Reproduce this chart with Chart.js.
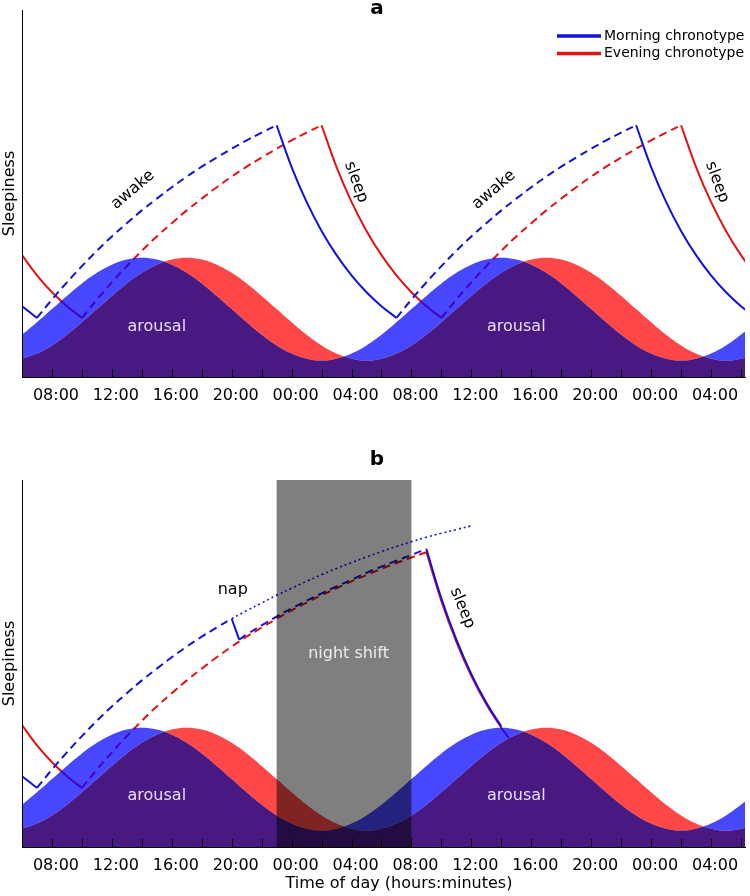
<!DOCTYPE html>
<html>
<head>
<meta charset="utf-8">
<script src="https://cdn.jsdelivr.net/npm/chart.js@4.4.0/dist/chart.umd.min.js"></script>
<style>
  body { margin: 0; background: #fff; }
  canvas { display: block; }
</style>
</head>
<body>
<canvas id="panelA" width="750" height="440" style="width:750px;height:440px"></canvas>
<canvas id="panelB" width="750" height="456" style="width:750px;height:456px"></canvas>
<script>
// time axis: hours counted from midnight of day 1 (30 = 06:00 next day)
const tickHours = [8, 12, 16, 20, 24, 28, 32, 36, 40, 44, 48, 52];
const tickLabels = ['08:00', '12:00', '16:00', '20:00', '00:00', '04:00',
                    '08:00', '12:00', '16:00', '20:00', '00:00', '04:00'];

// circadian arousal waves, hourly 06:00 .. 08:00 (day 3)
const waveHours = [6, 7, 8, 9, 10, 11, 12, 13, 14, 15, 16, 17, 18, 19, 20, 21, 22, 23, 24, 25, 26, 27, 28, 29, 30, 31,
                   32, 33, 34, 35, 36, 37, 38, 39, 40, 41, 42, 43, 44, 45, 46, 47, 48, 49, 50, 51, 52, 53, 54, 55, 56];
const morningArousal = [11.5, 14.9, 18.5, 22.1, 25.5, 28.4, 30.6, 32.0, 32.5, 32.0, 30.6, 28.4, 25.5, 22.1, 18.5, 14.9, 11.5,
                        8.6, 6.4, 5.0, 4.5, 5.0, 6.4, 8.6, 11.5, 14.9, 18.5, 22.1, 25.5, 28.4, 30.6, 32.0, 32.5, 32.0,
                        30.6, 28.4, 25.5, 22.1, 18.5, 14.9, 11.5, 8.6, 6.4, 5.0, 4.5, 5.0, 6.4, 8.6, 11.5, 14.9, 18.5];
const eveningArousal = [5.0, 6.4, 8.6, 11.5, 14.9, 18.5, 22.1, 25.5, 28.4, 30.6, 32.0, 32.5, 32.0, 30.6, 28.4, 25.5, 22.1,
                        18.5, 14.9, 11.5, 8.6, 6.4, 5.0, 4.5, 5.0, 6.4, 8.6, 11.5, 14.9, 18.5, 22.1, 25.5, 28.4, 30.6,
                        32.0, 32.5, 32.0, 30.6, 28.4, 25.5, 22.1, 18.5, 14.9, 11.5, 8.6, 6.4, 5.0, 4.5, 5.0, 6.4, 8.6];

// panel a: sleepiness, hourly 06:00 .. 07:00 (day 3)
const hoursA = [6, 7, 8, 9, 10, 11, 12, 13, 14, 15, 16, 17, 18, 19, 20, 21, 22, 23, 24, 25, 26, 27, 28, 29, 30,
                31, 32, 33, 34, 35, 36, 37, 38, 39, 40, 41, 42, 43, 44, 45, 46, 47, 48, 49, 50, 51, 52, 53, 54, 55];
const morningSleepinessA = [19.3, 16.1, 21.1, 25.8, 30.2, 34.4, 38.3, 41.9, 45.4, 48.6, 51.7, 54.6, 57.3, 59.8, 62.2, 64.5, 66.6, 68.6,
                            57.2, 47.7, 39.8, 33.2, 27.7, 23.1, 19.3, 16.1,
                            21.1, 25.8, 30.2, 34.4, 38.3, 41.9, 45.4, 48.6, 51.7, 54.6, 57.3, 59.8, 62.2, 64.5, 66.6, 68.6,
                            57.2, 47.7, 39.8, 33.2, 27.7, 23.1, 19.3, 16.1];
const eveningSleepinessA = [33.2, 27.7, 23.1, 19.3, 16.1,
                            21.1, 25.8, 30.2, 34.4, 38.3, 41.9, 45.4, 48.6, 51.7, 54.6, 57.3, 59.8, 62.2, 64.5, 66.6, 68.6,
                            57.2, 47.7, 39.8, 33.2, 27.7, 23.1, 19.3, 16.1,
                            21.1, 25.8, 30.2, 34.4, 38.3, 41.9, 45.4, 48.6, 51.7, 54.6, 57.3, 59.8, 62.2, 64.5, 66.6, 68.6,
                            57.2, 47.7, 39.8, 33.2, 27.7];
const morningAwakeA = [[7, 23], [31, 47]];
const eveningAwakeA = [[10, 26], [34, 50]];

// panel b: nap at 20:00, night shift, day sleep
const morningHoursB = [6, 7, 8, 9, 10, 11, 12, 13, 14, 15, 16, 17, 18, 19, 20, 20.5,
                       21, 22, 23, 24, 25, 26, 27, 28, 29, 30, 31, 32, 33, 34, 35, 36, 37, 38];
const morningSleepinessB = [19.3, 16.1, 21.1, 25.8, 30.2, 34.4, 38.3, 41.9, 45.4, 48.6, 51.7, 54.6, 57.3, 59.8, 62.2, 56.5,
                            57.9, 60.4, 62.8, 65.0, 67.1, 69.1, 71.0, 72.8, 74.7, 76.4, 78.0, 79.6, 81.2,
                            67.7, 56.5, 47.1, 39.3, 32.8];
const morningAwakeB = [[7, 20], [20.5, 33]];
const eveningHoursB = [6, 7, 8, 9, 10, 11, 12, 13, 14, 15, 16, 17, 18, 19, 20, 21, 22, 23, 24, 25, 26,
                       27, 28, 29, 30, 31, 32, 33, 34, 35, 36, 37, 38, 38.5];
const eveningSleepinessB = [33.2, 27.7, 23.1, 19.3, 16.1,
                            21.1, 25.8, 30.2, 34.4, 38.3, 41.9, 45.4, 48.6, 51.7, 54.6, 57.3, 59.8, 62.2, 64.5, 66.6, 68.6,
                            70.5, 72.4, 74.1, 75.8, 77.4, 78.9, 80.3,
                            67.0, 55.9, 46.6, 38.9, 32.5, 29.7];
const eveningAwakeB = [[10, 33]];
// morning type without the nap
const noNapHours = [20, 21, 22, 23, 24, 25, 26, 27, 28, 29, 30, 31, 32, 33, 34, 35, 36];
const noNapSleepiness = [62.2, 64.4, 66.5, 68.6, 70.5, 72.4, 74.2, 75.9, 77.5, 79.0, 80.5, 81.9, 83.2, 84.4, 85.5, 86.5, 87.5];
const nightShift = [23, 32];

const FONT = '"DejaVu Sans", Verdana, sans-serif';
const BLUE = '#1212dc';
const RED = '#e41212';

const pts = (hrs, vals) => hrs.map((h, i) => ({ x: h, y: vals[i] }));

// split a curve into awake (dashed) and asleep (solid) pieces
function sleepDatasets(hrs, vals, awake, color, order) {
  const isAwake = (a, b) => awake.some(w => a >= w[0] && b <= w[1]);
  const pieces = [];
  let cur = null;
  for (let i = 0; i < hrs.length - 1; i++) {
    const w = isAwake(hrs[i], hrs[i + 1]);
    if (!cur || cur.awake !== w) {
      cur = { awake: w, data: [{ x: hrs[i], y: vals[i] }] };
      pieces.push(cur);
    }
    cur.data.push({ x: hrs[i + 1], y: vals[i + 1] });
  }
  return pieces.map(p => ({
    data: p.data,
    borderColor: color,
    borderWidth: 2,
    borderDash: p.awake ? [8, 5] : [],
    pointRadius: 0,
    tension: 0.4,
    fill: false,
    order: order
  }));
}

// the two waves are plain (invisible) lines, their areas are painted by waveFill
function waveDatasets() {
  return [morningArousal, eveningArousal].map(v => ({
    data: pts(waveHours, v),
    borderWidth: 1,
    borderColor: 'rgba(0,0,0,0)',
    pointRadius: 0,
    tension: 0.4,
    fill: false,
    order: 9
  }));
}

// arousal areas, drawn over the lines (semi transparent like the original)
const waveFill = {
  id: 'waveFill',
  afterDatasetsDraw(chart) {
    const { ctx, chartArea: a } = chart;
    const blue = chart.getDatasetMeta(0).dataset;
    const red = chart.getDatasetMeta(1).dataset;
    [blue, red].forEach(l => { if (l.updateControlPoints) l.updateControlPoints(a, 'x'); });
    const shape = (line, edge) => {
      const p = line.points;
      ctx.beginPath();
      line.path(ctx);
      ctx.lineTo(p[p.length - 1].x, edge);
      ctx.lineTo(p[0].x, edge);
      ctx.closePath();
    };
    const region = (clipLine, clipEdge, fillLine, color) => {
      ctx.save();
      shape(clipLine, clipEdge);
      ctx.clip();
      shape(fillLine, a.bottom);
      ctx.fillStyle = color;
      ctx.fill();
      ctx.restore();
    };
    ctx.save();
    ctx.beginPath();
    ctx.rect(a.left, a.top, a.right - a.left, a.bottom - a.top);
    ctx.clip();
    region(red, a.top - 1, blue, 'rgba(0,0,255,0.72)');
    region(blue, a.top - 1, red, 'rgba(255,0,0,0.72)');
    region(blue, a.bottom, red, 'rgba(52,0,114,0.9)');
    if (chart.options.plugins.waveFill.shift) {
      const x = chart.scales.x;
      const x0 = x.getPixelForValue(nightShift[0]);
      const x1 = x.getPixelForValue(nightShift[1]);
      ctx.fillStyle = 'rgba(0,0,0,0.5)';
      ctx.fillRect(x0, a.top, x1 - x0, a.bottom - a.top);
    }
    ctx.restore();
  }
};

const notes = {
  id: 'notes',
  afterDraw(chart, args, opts) {
    const { ctx, chartArea: a, scales: { x, y } } = chart;
    ctx.save();
    // tick marks point into the plot
    ctx.strokeStyle = '#000';
    ctx.lineWidth = 1;
    x.ticks.forEach(t => {
      const px = Math.round(x.getPixelForValue(t.value)) + 0.5;
      if (px <= a.left + 2) return;
      ctx.beginPath();
      ctx.moveTo(px, a.bottom);
      ctx.lineTo(px, a.bottom - 8);
      ctx.stroke();
    });
    ctx.textAlign = 'center';
    ctx.textBaseline = 'middle';
    opts.labels.forEach(l => {
      ctx.save();
      ctx.translate(x.getPixelForValue(l.at[0]), y.getPixelForValue(l.at[1]));
      ctx.rotate((l.rot || 0) * Math.PI / 180);
      ctx.font = '16px ' + FONT;
      ctx.fillStyle = l.color || '#000';
      ctx.fillText(l.text, 0, 0);
      ctx.restore();
    });
    ctx.fillStyle = '#000';
    ctx.font = 'bold 20px ' + FONT;
    ctx.fillText(opts.title[0], opts.title[1], opts.title[2]);
    if (opts.xTitle) {
      ctx.font = '16px ' + FONT;
      ctx.fillText(opts.xTitle[0], opts.xTitle[1], opts.xTitle[2]);
    }
    if (opts.legend) {
      ctx.textAlign = 'left';
      ctx.font = '14px ' + FONT;
      ctx.lineWidth = 3.5;
      opts.legend.forEach((item, i) => {
        const ly = 36 + i * 17.5;
        ctx.strokeStyle = item[1];
        ctx.beginPath();
        ctx.moveTo(557, ly);
        ctx.lineTo(601, ly);
        ctx.stroke();
        ctx.fillStyle = '#000';
        ctx.fillText(item[0], 604, ly);
      });
    }
    ctx.restore();
  }
};

function makeOptions(top, xHeight, noteOpts, shift) {
  return {
    responsive: false,
    animation: false,
    events: [],
    layout: { padding: { top: top, right: 4, left: 0, bottom: 0 } },
    scales: {
      x: {
        type: 'linear',
        min: 6,
        max: 54.27,
        afterFit: s => { s.height = xHeight; },
        grid: { display: false, drawTicks: false },
        border: { display: true, color: '#000', width: 1, z: 1 },
        ticks: {
          stepSize: 2,
          includeBounds: false,
          autoSkip: false,
          maxRotation: 0,
          padding: 9,
          labelOffset: 4,
          color: '#000',
          font: { family: FONT, size: 16 },
          callback: v => {
            const i = tickHours.indexOf(v);
            return i >= 0 ? tickLabels[i] : '';
          }
        }
      },
      y: {
        min: 0,
        max: 100,
        afterFit: s => { s.width = 22; },
        grid: { display: false, drawTicks: false },
        border: { display: true, color: '#000', width: 1, z: 1 },
        ticks: { display: false },
        title: {
          display: true,
          text: 'Sleepiness',
          color: '#000',
          padding: { top: 0, bottom: 0 },
          font: { family: FONT, size: 16 }
        }
      }
    },
    plugins: {
      legend: { display: false },
      tooltip: { enabled: false },
      waveFill: { shift: shift },
      notes: noteOpts
    }
  };
}

new Chart(document.getElementById('panelA'), {
  type: 'line',
  data: {
    datasets: waveDatasets()
      .concat(sleepDatasets(hoursA, morningSleepinessA, morningAwakeA, BLUE, 1))
      .concat(sleepDatasets(hoursA, eveningSleepinessA, eveningAwakeA, RED, 2))
  },
  options: makeOptions(10, 63, {
    title: ['a', 377, 9],
    legend: [['Morning chronotype', BLUE], ['Evening chronotype', RED]],
    labels: [
      { text: 'awake', at: [13.4, 51], rot: -40 },
      { text: 'awake', at: [37.5, 51], rot: -40 },
      { text: 'sleep', at: [28.3, 53.1], rot: 70 },
      { text: 'sleep', at: [52.4, 53.1], rot: 70 },
      { text: 'arousal', at: [15, 13.6], color: '#eadcfa' },
      { text: 'arousal', at: [39, 13.6], color: '#eadcfa' }
    ]
  }, false),
  plugins: [waveFill, notes]
});

new Chart(document.getElementById('panelB'), {
  type: 'line',
  data: {
    datasets: waveDatasets()
      .concat(sleepDatasets(morningHoursB, morningSleepinessB, morningAwakeB, BLUE, 1))
      .concat(sleepDatasets(eveningHoursB, eveningSleepinessB, eveningAwakeB, RED, 2))
      .concat([{
        data: pts(noNapHours, noNapSleepiness),
        borderColor: BLUE,
        borderWidth: 1.6,
        borderDash: [2, 3],
        pointRadius: 0,
        tension: 0.4,
        fill: false,
        order: 1
      }])
  },
  options: makeOptions(40, 49, {
    title: ['b', 377, 20],
    xTitle: ['Time of day (hours:minutes)', 399, 444],
    labels: [
      { text: 'nap', at: [20.07, 70] },
      { text: 'night shift', at: [27.8, 52.6], color: '#ececec' },
      { text: 'sleep', at: [35.4, 65.1], rot: 68 },
      { text: 'arousal', at: [15, 13.9], color: '#eadcfa' },
      { text: 'arousal', at: [39, 13.9], color: '#eadcfa' }
    ]
  }, true),
  plugins: [waveFill, notes]
});
</script>
</body>
</html>
